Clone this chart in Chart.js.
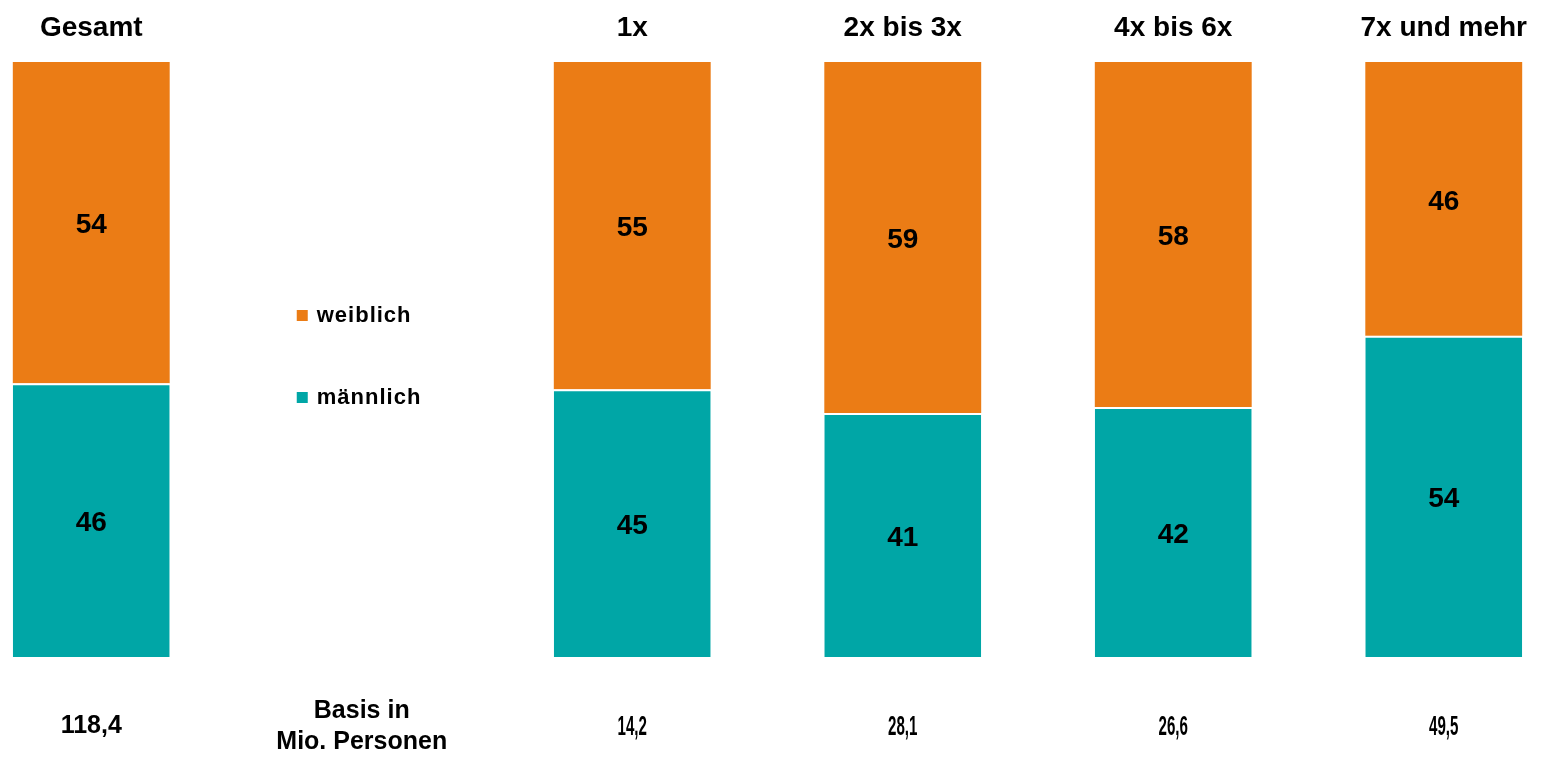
<!DOCTYPE html>
<html>
<head>
<meta charset="utf-8">
<script src="https://cdn.jsdelivr.net/npm/chart.js@4"></script>
<style>
  html, body { margin: 0; padding: 0; background: #fff; overflow: hidden; }
  #wrap { position: absolute; left: -44px; top: 0; width: 1623px; height: 757px; }
</style>
</head>
<body>
<div id="wrap"><canvas id="chart"></canvas></div>
<script>
// Data
const categories = ['Gesamt', '', '1x', '2x bis 3x', '4x bis 6x', '7x und mehr'];
const maennlich = [46, null, 45, 41, 42, 54];
const weiblich = [54, null, 55, 59, 58, 46];
const basis = ['118,4', '', '14,2', '28,1', '26,6', '49,5'];
const basisTitle = ['Basis in', 'Mio. Personen'];

const ORANGE = '#EB7C15';
const TEAL = '#00A6A6';
const FONT = '"Liberation Sans", Arial, sans-serif';

// value labels inside the segments, category names on top, base numbers below, legend in the gap
const extras = {
  id: 'extras',
  afterDatasetsDraw(chart) {
    const ctx = chart.ctx;
    const x = chart.scales.x;
    ctx.save();
    ctx.fillStyle = '#000';
    ctx.textAlign = 'center';
    ctx.textBaseline = 'middle';

    // numbers in bars
    ctx.font = 'bold 28px ' + FONT;
    chart.data.datasets.forEach((ds, di) => {
      const meta = chart.getDatasetMeta(di);
      meta.data.forEach((bar, i) => {
        if (ds.data[i] == null) return;
        const c = bar.getCenterPoint();
        ctx.fillText(String(ds.data[i]), c.x, c.y + 3);
      });
    });

    // category titles
    ctx.font = 'bold 28px ' + FONT;
    categories.forEach((cat, i) => {
      if (cat) ctx.fillText(cat, x.getPixelForValue(i), 28);
    });

    // basis row
    basis.forEach((b, i) => {
      if (!b) return;
      const px = x.getPixelForValue(i);
      const squeeze = i === 0 ? 1 : 0.56;
      ctx.save();
      ctx.translate(px, i === 0 ? 726 : 728);
      ctx.scale(squeeze, 1);
      ctx.font = 'bold ' + (i === 0 ? 25 : 27) + 'px ' + FONT;
      ctx.fillText(b, 0, 0);
      ctx.restore();
    });
    ctx.font = 'bold 25px ' + FONT;
    const mid = x.getPixelForValue(1);
    ctx.fillText(basisTitle[0], mid, 711);
    ctx.fillText(basisTitle[1], mid, 742);

    // legend
    const items = [
      { label: chart.data.datasets[1].label, color: ORANGE, y: 316 },
      { label: chart.data.datasets[0].label, color: TEAL, y: 398 }
    ];
    ctx.textAlign = 'left';
    ctx.font = 'bold 22px ' + FONT;
    if ('letterSpacing' in ctx) ctx.letterSpacing = '1px';
    items.forEach(it => {
      ctx.fillStyle = it.color;
      ctx.fillRect(mid - 65, it.y - 6, 11, 11);
      ctx.fillStyle = '#000';
      ctx.fillText(it.label, mid - 45, it.y);
    });
    ctx.restore();
  }
};

new Chart(document.getElementById('chart'), {
  type: 'bar',
  data: {
    labels: categories,
    datasets: [
      {
        label: 'männlich',
        data: maennlich,
        backgroundColor: TEAL,
        borderColor: '#fff',
        borderWidth: { top: 2, left: 0, right: 0, bottom: 0 },
        borderSkipped: false
      },
      {
        label: 'weiblich',
        data: weiblich,
        backgroundColor: ORANGE,
        borderWidth: 0
      }
    ]
  },
  options: {
    responsive: true,
    maintainAspectRatio: false,
    animation: false,
    layout: { padding: { top: 62, bottom: 100, left: 0, right: 0 } },
    categoryPercentage: 1,
    barPercentage: 0.58,
    scales: {
      x: { stacked: true, display: false },
      y: { stacked: true, display: false, min: 0, max: 100 }
    },
    plugins: {
      legend: { display: false },
      tooltip: { enabled: false }
    }
  },
  plugins: [extras]
});
</script>
</body>
</html>
